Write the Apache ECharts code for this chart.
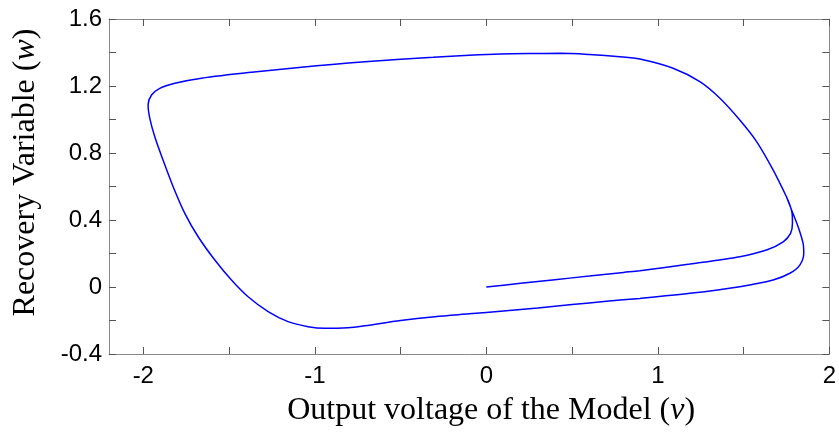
<!DOCTYPE html>
<html>
<head>
<meta charset="utf-8">
<script src="https://cdn.jsdelivr.net/npm/echarts@6/dist/echarts.min.js"></script>
<style>
  html, body { margin: 0; padding: 0; background: #ffffff; }
  #chart { width: 839px; height: 440px; }
</style>
</head>
<body>
<div id="chart"></div>
<script>
// Phase-plane trajectory: output voltage v against recovery variable w.
// The path starts at the origin, heads right, joins the limit cycle
// on its right branch and then runs once around the cycle.
const trajV = [
  // start-up path from the origin
  0, 0.2, 0.4, 0.6, 0.8, 0.895, 1.187, 1.478, 1.634, 1.731, 1.774, 1.785, 1.783, 1.77,
  // right branch, going up
  1.75, 1.672, 1.576, 1.478, 1.362, 1.245, 1.089, 0.895,
  // upper branch, going left
  0.778, 0.6, 0.429, 0.25, 0.079, -0.1, -0.31, -0.5, -0.708, -0.9, -1.078, -1.369,
  -1.661, -1.816, -1.904, -1.952, -1.972, -1.962,
  // left branch, going down
  -1.933, -1.885, -1.826, -1.758, -1.68, -1.583, -1.486, -1.389, -1.272, -1.156,
  -1.039, -0.942, -0.806, -0.708,
  // lower branch, going right
  -0.5, -0.3, -0.1, 0.1, 0.3, 0.5, 0.7, 0.895, 1.187, 1.478, 1.672, 1.77, 1.828,
  1.851, 1.847, 1.818, 1.78, 1.75
];
const trajW = [
  0, 0.022, 0.044, 0.065, 0.087, 0.097, 0.137, 0.181, 0.221, 0.27, 0.32, 0.38, 0.44, 0.49,
  0.539, 0.699, 0.868, 0.997, 1.127, 1.226, 1.306, 1.361,
  1.375, 1.388, 1.395, 1.394, 1.391, 1.383, 1.371, 1.36, 1.345, 1.328, 1.312, 1.282,
  1.246, 1.216, 1.186, 1.146, 1.087, 1.007,
  0.897, 0.758, 0.599, 0.44, 0.3, 0.161, 0.042, -0.058, -0.147, -0.207,
  -0.237, -0.247, -0.243, -0.231,
  -0.2, -0.177, -0.16, -0.143, -0.125, -0.105, -0.085, -0.068, -0.038, 0.002, 0.042, 0.082, 0.131,
  0.201, 0.261, 0.36, 0.46, 0.539
];

// Tick marks and tick labels
const xTickValues = [-2, -1.5, -1, -0.5, 0, 0.5, 1, 1.5, 2];
const xLabelValues = [-2, -1, 0, 1, 2];
const yTickValues = [-0.4, -0.2, 0, 0.2, 0.4, 0.6, 0.8, 1, 1.2, 1.4, 1.6];
const yLabelValues = [-0.4, 0, 0.4, 0.8, 1.2, 1.6];

const points = trajV.map((v, i) => [v, trajW[i]]);

const boxLine = { show: true, onZero: false, lineStyle: { color: '#8a8a8a', width: 1 } };
const tickStyle = { color: '#555555', width: 1 };
const labelFont = { fontFamily: 'Liberation Sans, Arial, sans-serif', fontSize: 24, color: '#000000' };
const titleFont = { fontFamily: 'Liberation Serif, Times New Roman, serif', fontSize: 32, color: '#000000' };

const chart = echarts.init(document.getElementById('chart'), null, { renderer: 'canvas' });
chart.setOption({
  animation: false,
  backgroundColor: '#ffffff',
  grid: { left: 109, right: 8, top: 19, bottom: 86, containLabel: false },
  xAxis: [
    {
      type: 'value', min: -2.2, max: 2, position: 'bottom',
      axisLine: boxLine,
      axisTick: { show: true, inside: true, length: 7, customValues: xTickValues, lineStyle: tickStyle },
      axisLabel: Object.assign({ customValues: xLabelValues, margin: 10 }, labelFont),
      splitLine: { show: false },
      name: 'Output voltage of the Model ({i|v})',
      nameLocation: 'middle',
      nameGap: 41,
      nameTextStyle: Object.assign({
        padding: [0, 0, 0, 44],
        rich: { i: Object.assign({ fontStyle: 'italic' }, titleFont) }
      }, titleFont)
    },
    {
      type: 'value', min: -2.2, max: 2, position: 'top',
      axisLine: boxLine,
      axisTick: { show: true, inside: true, length: 7, customValues: xTickValues, lineStyle: tickStyle },
      axisLabel: { show: false },
      splitLine: { show: false }
    }
  ],
  yAxis: [
    {
      type: 'value', min: -0.4, max: 1.6, position: 'left',
      axisLine: boxLine,
      axisTick: { show: true, inside: true, length: 7, customValues: yTickValues, lineStyle: tickStyle },
      axisLabel: Object.assign({ customValues: yLabelValues, margin: 7 }, labelFont),
      splitLine: { show: false },
      name: 'Recovery Variable ({i|w})',
      nameLocation: 'middle',
      nameGap: 67,
      nameRotate: 90,
      nameTextStyle: Object.assign({
        padding: [0, 0, 0, 28],
        rich: { i: Object.assign({ fontStyle: 'italic' }, titleFont) }
      }, titleFont)
    },
    {
      type: 'value', min: -0.4, max: 1.6, position: 'right',
      axisLine: boxLine,
      axisTick: { show: true, inside: true, length: 7, customValues: yTickValues, lineStyle: tickStyle },
      axisLabel: { show: false },
      splitLine: { show: false }
    }
  ],
  series: [
    {
      type: 'line',
      xAxisIndex: 0,
      yAxisIndex: 0,
      data: points,
      showSymbol: false,
      smooth: 0.3,
      lineStyle: { color: '#0000ff', width: 1.5 },
      silent: true
    }
  ]
});
</script>
</body>
</html>
